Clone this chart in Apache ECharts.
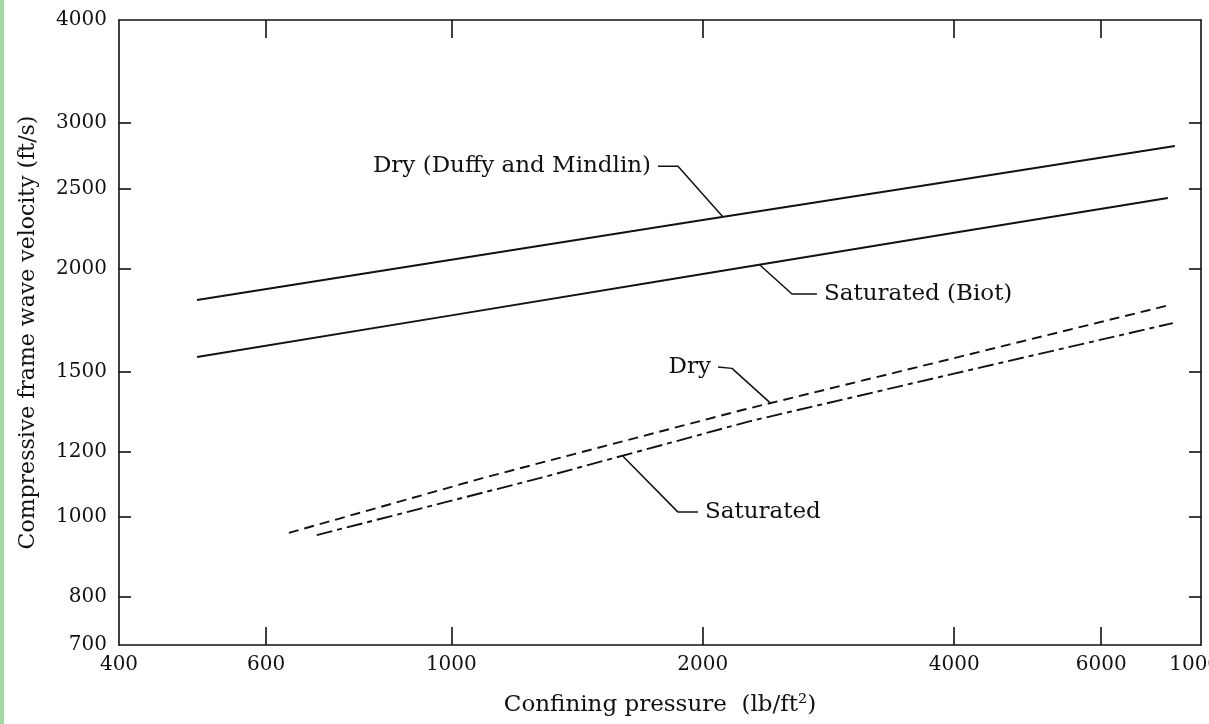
<!DOCTYPE html>
<html><head><meta charset="utf-8">
<script src="https://cdn.jsdelivr.net/npm/echarts@6/dist/echarts.min.js"></script>
<style>
html,body{margin:0;padding:0;background:#fff;overflow:hidden;}
#c{width:1209px;height:724px;}
#edge{position:absolute;left:0;top:0;width:4px;height:724px;background:#a3d9a3;}
</style>
</head><body><div id="c"></div><div id="edge"></div>
<script>
// ---- axis ranges and ticks ----
const xMin = 400, xMax = 7900, yMin = 700, yMax = 4000;
const xTickValues = [400, 600, 1000, 2000, 4000, 6000, 7900];
const xTickLabels = ['400', '600', '1000', '2000', '4000', '6000', '10000'];
const yTickValues = [700, 800, 1000, 1200, 1500, 2000, 2500, 3000, 4000];
const yTickLabels = ['700', '800', '1000', '1200', '1500', '2000', '2500', '3000', '4000'];
const xName = 'Confining pressure  (lb/ft\u00B2)';
const yName = 'Compressive frame wave velocity (ft/s)';

// ---- curves: [pressure, velocity] ----
const dryDuffyMindlin = [[496, 1832], [1000, 2050], [2000, 2290], [4000, 2555], [7350, 2815]];
const saturatedBiot   = [[496, 1563], [1000, 1755], [2000, 1970], [4000, 2210], [7210, 2435]];
const dry             = [[639, 957], [1090, 1115], [2230, 1348], [4000, 1558], [7250, 1807]];
const saturated       = [[690, 951], [1290, 1118], [2280, 1307], [4000, 1492], [7310, 1718]];

// ---- annotations (data coordinates) ----
const annoText = ['Dry (Duffy and Mindlin)', 'Saturated (Biot)', 'Dry', 'Saturated'];
const annoLeaders = [
  [[1768, 2661], [1868, 2661], [2115, 2310]],
  [[2341, 2020], [2558, 1863], [2740, 1863]],
  [[2086, 1520], [2168, 1514], [2407, 1376]],
  [[1605, 1185], [1868, 1014], [1974, 1014]]
];
const annoAtStart = [true, false, true, false];

const FONT = 'DejaVu Serif';
const INK = '#111111';

function labelFor(values, labels) {
  return function (v) {
    for (let i = 0; i < values.length; i++) {
      if (Math.abs(values[i] - v) / values[i] < 1e-3) return labels[i];
    }
    return '';
  };
}

function xAxisDef(pos) {
  const bottom = pos === 'bottom';
  return {
    type: 'log', logBase: 10, min: xMin, max: xMax, position: pos,
    axisLine: { show: true, onZero: false, lineStyle: { color: INK, width: 1.6 } },
    axisTick: { show: true, inside: true, length: 18, customValues: xTickValues.slice(1, -1), lineStyle: { color: INK, width: 1.6 } },
    minorTick: { show: false },
    splitLine: { show: false },
    axisLabel: bottom ? {
      show: true, customValues: xTickValues, formatter: labelFor(xTickValues, xTickLabels),
      color: INK, fontFamily: FONT, fontSize: 20, margin: 10
    } : { show: false },
    name: bottom ? xName : '',
    nameLocation: 'middle', nameGap: 49,
    nameTextStyle: { color: INK, fontFamily: FONT, fontSize: 23 }
  };
}
function yAxisDef(pos) {
  const left = pos === 'left';
  return {
    type: 'log', logBase: 10, min: yMin, max: yMax, position: pos,
    axisLine: { show: true, onZero: false, lineStyle: { color: INK, width: 1.6 } },
    axisTick: { show: true, inside: true, length: 12, customValues: yTickValues.slice(1, -1), lineStyle: { color: INK, width: 1.6 } },
    minorTick: { show: false },
    splitLine: { show: false },
    axisLabel: left ? {
      show: true, customValues: yTickValues, formatter: labelFor(yTickValues, yTickLabels),
      color: INK, fontFamily: FONT, fontSize: 20, margin: 12
    } : { show: false },
    name: left ? yName : '',
    nameLocation: 'middle', nameGap: 80, nameRotate: 90,
    nameTextStyle: { color: INK, fontFamily: FONT, fontSize: 22 }
  };
}

function curve(data, type) {
  return {
    type: 'line', data: data, xAxisIndex: 0, yAxisIndex: 0,
    showSymbol: false, symbol: 'none', smooth: false, silent: true,
    lineStyle: { color: INK, width: 1.9, type: type }
  };
}

const series = [
  curve(dryDuffyMindlin, 'solid'),
  curve(saturatedBiot, 'solid'),
  curve(dry, [10, 6]),
  curve(saturated, [16, 5, 5, 5])
];
annoLeaders.forEach(function (pts, i) {
  series.push({
    type: 'line', data: pts, xAxisIndex: 0, yAxisIndex: 0,
    showSymbol: false, symbol: 'none', silent: true,
    lineStyle: { color: INK, width: 1.5 }
  });
  const atStart = annoAtStart[i];
  series.push({
    type: 'scatter', xAxisIndex: 0, yAxisIndex: 0, silent: true,
    symbolSize: 0, itemStyle: { color: INK, opacity: 1 },
    data: [{ value: atStart ? pts[0] : pts[pts.length - 1] }],
    label: {
      show: true, position: atStart ? 'left' : 'right', distance: 7,
      formatter: annoText[i], color: INK, opacity: 1, fontFamily: FONT, fontSize: 23
    }
  });
});

const chart = echarts.init(document.getElementById('c'), null, { renderer: 'canvas' });
chart.setOption({
  animation: false,
  backgroundColor: '#ffffff',
  grid: { left: 119, right: 8, top: 20, bottom: 79, containLabel: false, outerBoundsMode: 'none' },
  xAxis: [xAxisDef('bottom'), xAxisDef('top')],
  yAxis: [yAxisDef('left'), yAxisDef('right')],
  series: series
});
</script>
</body></html>
